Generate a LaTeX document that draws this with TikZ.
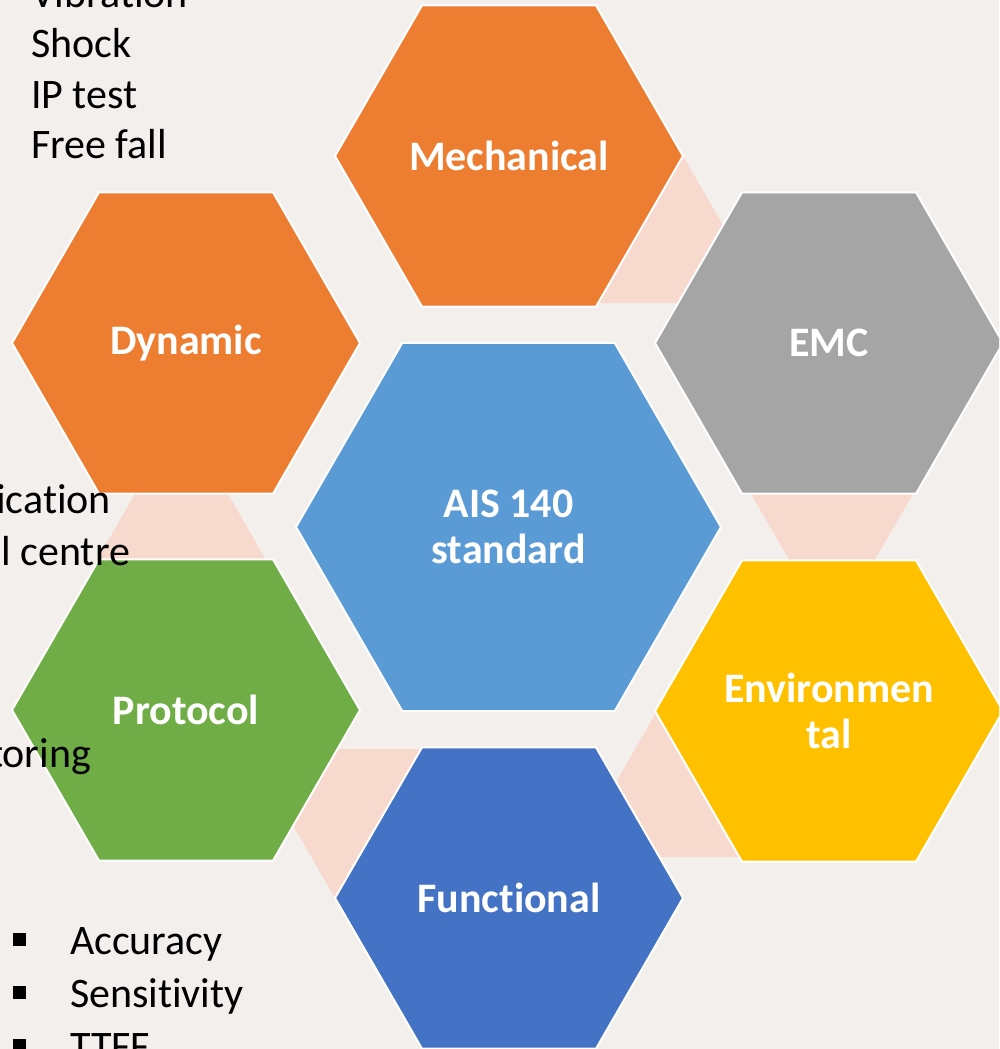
\documentclass[tikz,border=0pt]{standalone}
\usepackage{fontspec}
\setmainfont[Ligatures=NoCommon]{Carlito}
\usetikzlibrary{shapes.geometric}
\definecolor{bgc}{HTML}{F3EFEC}
\definecolor{pinkc}{HTML}{F7D9CE}
\definecolor{orangec}{HTML}{ED7D31}
\definecolor{grayc}{HTML}{A5A5A5}
\definecolor{yellowc}{HTML}{FFC000}
\definecolor{bluec}{HTML}{4472C4}
\definecolor{greenc}{HTML}{70AD47}
\definecolor{lbluec}{HTML}{5B9BD5}
\begin{document}
\begin{tikzpicture}[x=1pt,y=-1pt,
  hexo/.style={regular polygon, regular polygon sides=6, minimum size=348pt,
    inner sep=0pt, outer sep=0pt, draw=white, line width=2pt, text=white,
    font=\fontsize{42}{46}\selectfont\bfseries, align=center},
  hexc/.style={hexo, minimum size=425pt},
  pinktri/.style={fill=pinkc, draw=none},
  bodytext/.style={inner sep=0pt, outer sep=0pt, text=black,
    font=\fontsize{42}{50}\selectfont},
  bulletsq/.style={fill=black, draw=none, inner sep=0pt, minimum size=13pt}]
\useasboundingbox (0,0) rectangle (999,1049);
\clip (0,0) rectangle (999,1049);
\fill[bgc] (0,0) rectangle (999,1049);
% pink connector triangles
\fill[pinktri] (683,156) -- (768,303) -- (598,303) -- cycle;
\fill[pinktri] (747,487) -- (917,487) -- (832,634) -- cycle;
\fill[pinktri] (657,711) -- (741,857) -- (573,857) -- cycle;
\fill[pinktri] (249,749) -- (421,749) -- (335,898) -- cycle;
\fill[pinktri] (181.5,413) -- (266,560) -- (97,560) -- cycle;
% hexagons
\node[hexo, fill=orangec] (mech) at (509,156) {Mechanical};
\node[hexo, fill=grayc] (emc) at (829,343) {EMC};
\node[hexo, fill=yellowc] (env) at (829,711) {Environmen\\tal};
\node[hexo, fill=bluec] (func) at (509,898) {Functional};
\node[hexo, fill=greenc] (proto) at (186,710) {Protocol};
\node[hexo, fill=orangec] (dyn) at (186,343) {Dynamic};
\node[hexc, fill=lbluec] (ais) at (508.5,527) {AIS 140\\standard};
% side texts
\node[bodytext, anchor=base west] (t1) at (31,8) {Vibration};
\node[bodytext, anchor=base west] (t2) at (31,58) {Shock};
\node[bodytext, anchor=base west] (t3) at (31,108) {IP test};
\node[bodytext, anchor=base west] (t4) at (31,158) {Free fall};
\node[bodytext, anchor=base east] (t5) at (111,513) {ication};
\node[bodytext, anchor=base east] (t6) at (130,565) {l centre};
\node[bodytext, anchor=base east] (t7) at (91,767) {toring};
\node[bulletsq] (b1) at (19.5,939) {};
\node[bulletsq] (b2) at (19.5,992) {};
\node[bulletsq] (b3) at (19.5,1045) {};
\node[bodytext, anchor=base west] (t8) at (70,954) {Accuracy};
\node[bodytext, anchor=base west] (t9) at (70,1007) {Sensitivity};
\node[bodytext, anchor=base west] (t10) at (70,1060) {TTFF};
\end{tikzpicture}
\end{document}
